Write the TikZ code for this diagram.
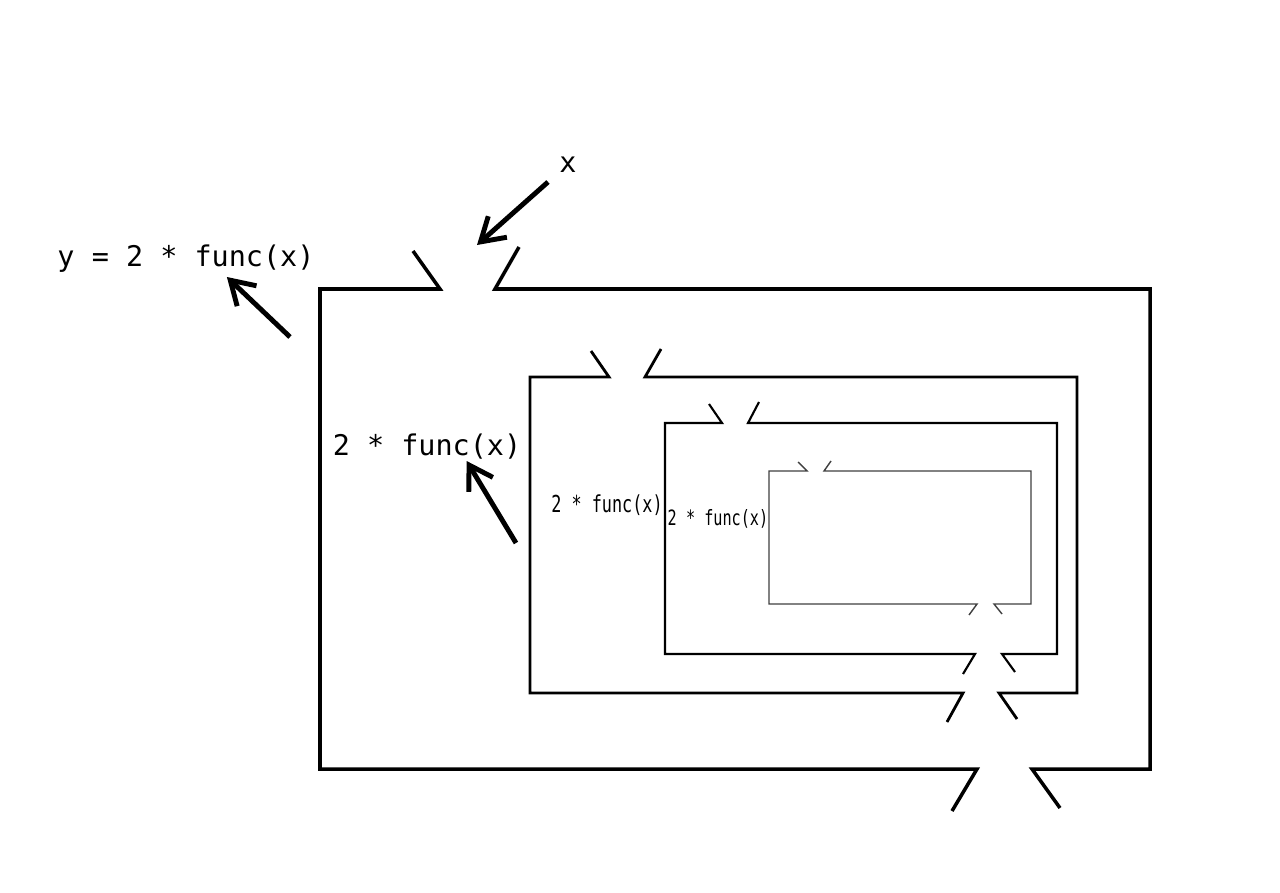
\documentclass[tikz,border=0pt]{standalone}
\usepackage{fontspec}
\setmonofont{DejaVu Sans Mono}
\newfontfamily\narrowmono[FakeStretch=0.72]{DejaVu Sans Mono}
\usetikzlibrary{arrows.meta, positioning}

\begin{document}
\begin{tikzpicture}[x=0.02cm, y=-0.02cm,
    wall/.style={line join=miter},
    pointer/.style={line width=2.8pt, -{Straight Barb[length=13pt, width=16pt]}},
    expr/.style={inner sep=0pt, anchor=base},
    bigexpr/.style={expr, font=\ttfamily\fontsize{16.2}{18}\selectfont},
    smallexpr/.style={expr, font=\narrowmono\fontsize{#1}{14}\selectfont}]
    \useasboundingbox[fill=white] (0,0) rectangle (1280,892);

    % labels
    \node[bigexpr] (xin) at (568,172) {x};
    \node[bigexpr] (yout) at (186,266) {y = 2 * func(x)};
    \node[bigexpr] (ret1) at (427,455) {2 * func(x)};
    \node[smallexpr=13.3] (ret2) at (607,512) {2 * func(x)};
    \node[smallexpr=12] (ret3) at (718,525) {2 * func(x)};

    % outer call
    \draw[wall, line width=2pt] (413,251) -- (440,289) -- (320,289) -- (320,769) -- (977,769) -- (952,811);
    \draw[wall, line width=2pt] (519,247) -- (495,289) -- (1150,289) -- (1150,769) -- (1032,769) -- (1060,808);

    % second call
    \draw[wall, line width=1.6pt] (591,351) -- (609,377) -- (530,377) -- (530,693) -- (963,693) -- (947,722);
    \draw[wall, line width=1.6pt] (661,349) -- (645,377) -- (1077,377) -- (1077,693) -- (999,693) -- (1017,719);

    % third call
    \draw[wall, line width=1.2pt] (709,404) -- (722,423) -- (665,423) -- (665,654) -- (975,654) -- (963,674);
    \draw[wall, line width=1.2pt] (759,402) -- (748,423) -- (1057,423) -- (1057,654) -- (1002,654) -- (1015,672);

    % innermost call
    \draw[wall, line width=0.8pt, black!75] (798,462) -- (807,471) -- (769,471) -- (769,604) -- (977,604) -- (969,615);
    \draw[wall, line width=0.8pt, black!75] (831,461) -- (824,471) -- (1031,471) -- (1031,604) -- (994,604) -- (1002,614);

    % arrows
    \coordinate (xtail) at (548,182);
    \coordinate (xhead) at (477,245);
    \coordinate (ytail) at (290,337);
    \coordinate (rtail) at (516,543);
    \draw[pointer] (xtail) -- (xhead);
    \draw[pointer] (ytail) -- ([xshift=-1.76cm, yshift=-0.22cm]yout.base east);
    \draw[pointer] (rtail) -- ([xshift=-1.1cm, yshift=-0.12cm]ret1.base east);
\end{tikzpicture}
\end{document}
